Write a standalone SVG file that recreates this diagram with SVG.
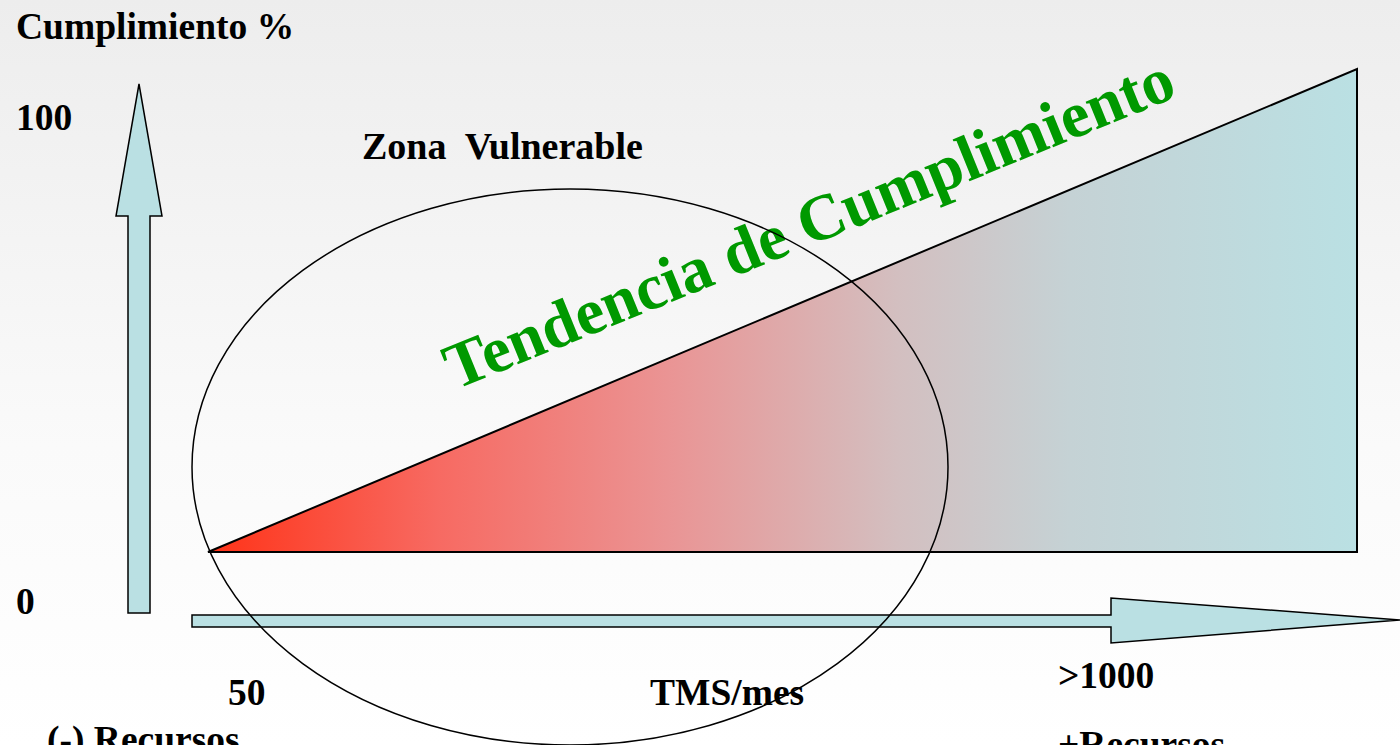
<svg xmlns="http://www.w3.org/2000/svg" width="1400" height="745" viewBox="0 0 1400 745">
  <defs>
    <linearGradient id="bg" x1="0" y1="0" x2="0" y2="1">
      <stop offset="0" stop-color="#ededed"/>
      <stop offset="0.6" stop-color="#fafafa"/>
      <stop offset="1" stop-color="#ffffff"/>
    </linearGradient>
    <linearGradient id="tri" gradientUnits="userSpaceOnUse" x1="208" y1="0" x2="1357" y2="0">
      <stop offset="0" stop-color="#ff3318"/>
      <stop offset="0.2" stop-color="#f76a62"/>
      <stop offset="0.4" stop-color="#ea9494"/>
      <stop offset="0.6" stop-color="#d3bfc0"/>
      <stop offset="0.75" stop-color="#c5d2d5"/>
      <stop offset="1" stop-color="#bae0e3"/>
    </linearGradient>
    <style>
      .lbl { font-family: "Liberation Serif", "Times New Roman", serif; font-weight: bold; font-size: 37.5px; fill: #000; }
      .axis { fill: #bae0e3; stroke: #000; stroke-width: 1.5; stroke-linejoin: miter; }
      .trend { font-family: "Liberation Serif", "Times New Roman", serif; font-weight: bold; font-size: 65px; fill: #009900; }
    </style>
  </defs>

  <rect x="0" y="0" width="1400" height="745" fill="url(#bg)"/>

  <g id="triangle">
    <polygon points="208,552 1357,69 1357,552" fill="url(#tri)" stroke="#000" stroke-width="2"/>
  </g>

  <g id="connectors">
    <polygon class="axis" points="128,613 150,613 150,216 162,216 139,84 116,216 128,216"/>
    <polygon class="axis" points="192,615 1111,615 1111,598 1400,620 1111,643 1111,627 192,627"/>
  </g>

  <g id="labels">
    <text class="lbl" x="16" y="39">Cumplimiento %</text>
    <text class="lbl" x="16" y="130">100</text>
    <text class="lbl" x="16" y="614">0</text>
    <text class="lbl" x="362" y="159" style="white-space:pre;font-size:38px">Zona  Vulnerable</text>
    <text class="lbl" x="228" y="705">50</text>
    <text class="lbl" x="650" y="705">TMS/mes</text>
    <text class="lbl" x="1058" y="688">&gt;1000</text>
    <text class="lbl" x="47" y="752">(-) Recursos</text>
    <text class="lbl" x="1058" y="757">+Recursos</text>
  </g>

  <g id="trend">
    <text class="trend" transform="translate(455,390) rotate(-22.1)">Tendencia de Cumplimiento</text>
  </g>

  <g id="zona-vulnerable">
    <ellipse cx="570" cy="467" rx="378" ry="278" fill="none" stroke="#000" stroke-width="1.5"/>
  </g>
</svg>
